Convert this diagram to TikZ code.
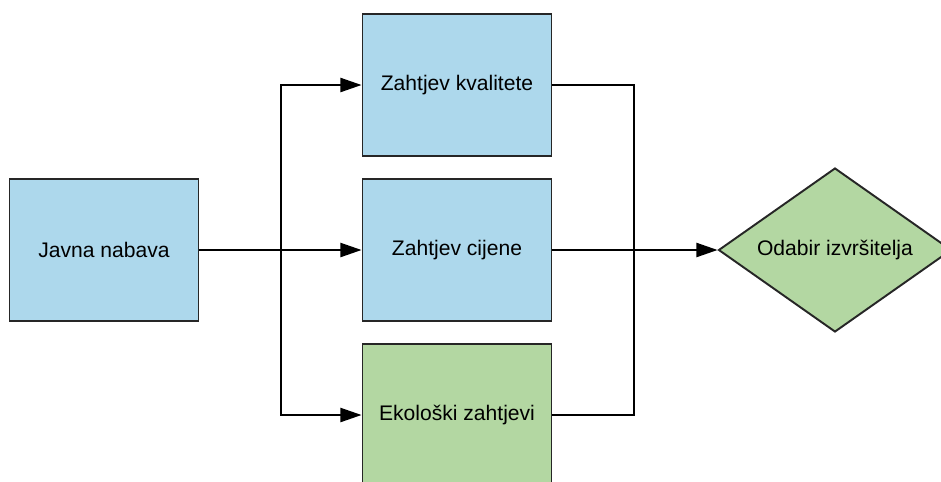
\documentclass[tikz,border=0pt]{standalone}
\usepackage{fontspec}
\setmainfont{Liberation Sans}
\usetikzlibrary{arrows.meta,shapes.geometric}
\definecolor{boxblue}{HTML}{ADD8EC}
\definecolor{boxgreen}{HTML}{B3D7A2}
\tikzset{
  box/.style={draw=black!85,line width=1.1pt,minimum width=3.78cm,minimum height=2.84cm,
    inner sep=0pt,font=\fontsize{12}{14}\selectfont},
  odluka/.style={diamond,aspect=1.45,draw=black!85,fill=boxgreen,line width=1.1pt,minimum width=4.66cm,
    minimum height=3.28cm,inner sep=0pt,font=\fontsize{12}{14}\selectfont},
  veza/.style={line width=1.1pt},
  strelica/.style={veza,-{Triangle[length=12pt,width=8pt]}}
}
\begin{document}
\begin{tikzpicture}[x=0.02cm,y=-0.02cm]
    \clip (0,0) rectangle (941,481);
    \node[box,fill=boxblue] (javna) at (104,250) {Javna nabava};
    \node[box,fill=boxblue] (kval) at (457,85) {Zahtjev kvalitete};
    \node[box,fill=boxblue] (cij) at (457,250) {Zahtjev cijene};
    \node[box,fill=boxgreen] (eko) at (457,415) {Ekološki zahtjevi};
    \node[odluka] (odabir) at (835,250) {Odabir izvršitelja};
%    grananje i spajanje
    \coordinate (grana) at (281,250);
    \coordinate (spoj) at (634,250);
    \draw[strelica] (javna) -- (cij);
    \draw[strelica] (grana) |- (kval);
    \draw[strelica] (grana) |- (eko);
    \draw[veza] (kval) -| (spoj) |- (eko);
    \draw[strelica] (cij) -- (odabir);
\end{tikzpicture}
\end{document}
